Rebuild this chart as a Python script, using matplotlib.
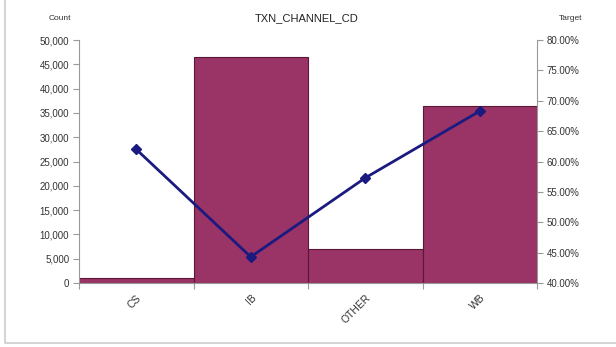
import matplotlib
matplotlib.use("Agg")
import matplotlib.pyplot as plt
from matplotlib.ticker import FuncFormatter, MultipleLocator
from matplotlib.lines import Line2D

categories = ["CS", "IB", "OTHER", "WB"]
counts = [1000, 46500, 6900, 36400]
target = [62.0, 44.3, 57.3, 68.3]

plt.rcParams['font.family'] = ['Liberation Sans', 'DejaVu Sans']

W, H = 616, 347
fig = plt.figure(figsize=(W/100, H/100), dpi=100)
fig.patch.set_facecolor('white')

# chart area border (left and bottom visible)
fig.add_artist(Line2D([5/W, 5/W, 1.0], [1.0, 1-343/H, 1-343/H], transform=fig.transFigure,
                      color='#cccccc', linewidth=1.2))

left, right, top, bottom = 79, 537, 40, 283
ax = fig.add_axes([left/W, 1-bottom/H, (right-left)/W, (bottom-top)/H])
x = list(range(len(categories)))
ax.bar(x, counts, width=1.0, color='#9a3366', edgecolor='#5a1836', linewidth=0.8, zorder=2)
ax.set_xlim(-0.5, len(categories)-0.5)
ax.set_ylim(0, 50000)
ax.yaxis.set_major_locator(MultipleLocator(5000))
ax.yaxis.set_major_formatter(FuncFormatter(lambda v, p: f"{int(v):,}"))
ax.set_xticks([i - 0.5 for i in range(len(categories)+1)], minor=False)
ax.set_xticklabels([])
ax.set_xticks(x, minor=True)
ax.set_xticklabels(categories, minor=True, rotation=45, ha='right', va='top',
                   rotation_mode='anchor', fontsize=7.5, color='#333333')
ax.tick_params(axis='x', which='minor', length=0, pad=7)
ax.tick_params(axis='x', which='major', length=4, color='#999999', direction='out')
ax.tick_params(axis='y', length=4, color='#999999', labelsize=7, labelcolor='#333333', pad=3)
for s in ['top', 'right']:
    ax.spines[s].set_visible(False)
ax.spines['left'].set_color('#999999')
ax.spines['bottom'].set_color('#999999')
ax.set_facecolor('none')

ax2 = ax.twinx()
ax2.plot(x, target, color='#1a1a80', linewidth=2.0, marker='D', markersize=5,
         markerfacecolor='#1a1a80', markeredgecolor='#1a1a80', zorder=3)
ax2.set_ylim(40, 80)
ax2.yaxis.set_major_locator(MultipleLocator(5))
ax2.yaxis.set_major_formatter(FuncFormatter(lambda v, p: f"{v:.2f}%"))
ax2.tick_params(axis='y', length=4, color='#999999', labelsize=7, labelcolor='#333333', pad=3)
for s in ['top', 'left', 'bottom']:
    ax2.spines[s].set_visible(False)
ax2.spines['right'].set_color('#999999')

fig.text(307/W, 1-18/H, "TXN_CHANNEL_CD", ha='center', va='center', fontsize=8, color='#222222')
fig.text(60/W, 1-18/H, "Count", ha='center', va='center', fontsize=6, color='#333333')
fig.text(571/W, 1-18/H, "Target", ha='center', va='center', fontsize=6, color='#333333')

fig.savefig("out.png", dpi=100)
